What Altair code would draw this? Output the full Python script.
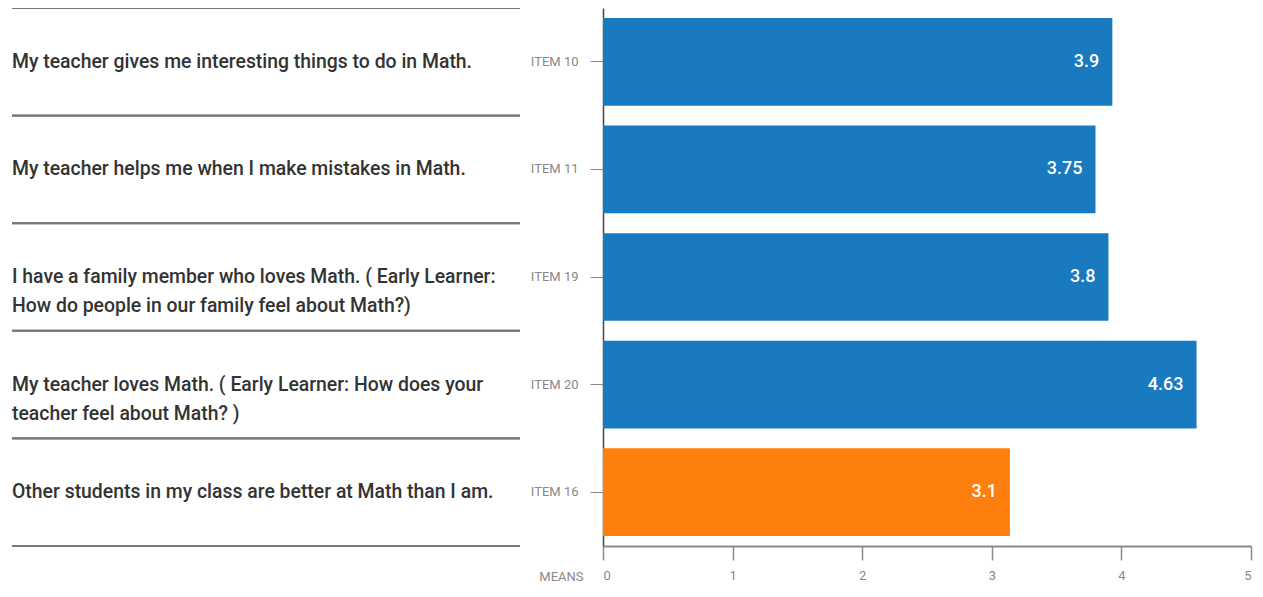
import altair as alt
import pandas as pd

items = ["ITEM 10", "ITEM 11", "ITEM 19", "ITEM 20", "ITEM 16"]
statements = [
    "My teacher gives me interesting things to do in Math.",
    "My teacher helps me when I make mistakes in Math.",
    "I have a family member who loves Math. ( Early Learner:\nHow do people in our family feel about Math?)",
    "My teacher loves Math. ( Early Learner: How does your\nteacher feel about Math? )",
    "Other students in my class are better at Math than I am.",
]
means = [3.93, 3.80, 3.90, 4.58, 3.14]
value_labels = ["3.9", "3.75", "3.8", "4.63", "3.1"]
kinds = ["positive", "positive", "positive", "positive", "negative"]
x_ticks = [0, 1, 2, 3, 4, 5]

df = pd.DataFrame({
    "item": items,
    "statement": statements,
    "mean": means,
    "label": value_labels,
    "kind": kinds,
})

FONT = "Roboto"
PLOT_H = 538

y_enc = alt.Y(
    "item:N",
    sort=items,
    scale=alt.Scale(paddingInner=0.1852, paddingOuter=0.0926),
    axis=alt.Axis(
        title=None,
        domainColor="#444444",
        domainWidth=1.5,
        tickColor="#888888",
        tickSize=13,
        tickWidth=1,
        labelPadding=12,
        labelColor="#888888",
        labelFontSize=13,
        labelFont=FONT,
    ),
)

x_enc = alt.X(
    "mean:Q",
    scale=alt.Scale(domain=[0, 5], nice=False),
    axis=alt.Axis(
        values=x_ticks,
        format="d",
        title="MEANS",
        titleX=-20,
        titleY=30,
        titleAlign="right",
        titleBaseline="middle",
        titleFont=FONT,
        titleFontSize=13,
        titleFontWeight="normal",
        titleColor="#888888",
        domainColor="#8a8a8a",
        domainWidth=2,
        tickColor="#8a8a8a",
        tickSize=14,
        tickWidth=1.5,
        labelPadding=9,
        labelColor="#888888",
        labelFontSize=13,
        labelFont=FONT,
        grid=False,
    ),
)

base = alt.Chart(df)

bars = base.mark_bar().encode(
    x=x_enc,
    y=y_enc,
    color=alt.Color(
        "kind:N",
        scale=alt.Scale(domain=["positive", "negative"], range=["#1a7abf", "#ff7f0e"]),
        legend=None,
    ),
)

bar_text = base.mark_text(
    align="right", baseline="middle", dx=-13, color="white",
    font=FONT, fontSize=18, fontWeight=500,
).encode(
    x="mean:Q",
    y=alt.Y("item:N", sort=items),
    text="label:N",
)

left_text = base.mark_text(
    align="left", baseline="middle", lineBreak="\n", lineHeight=29,
    font=FONT, fontSize=19.4, fontWeight=500, color="#333333",
).encode(
    x=alt.value(-591),
    y=alt.Y("item:N", sort=items),
    text="statement:N",
)

rule_top = base.mark_rule(color="#777777", strokeWidth=2, yOffset=-10).encode(
    x=alt.value(-591),
    x2=alt.value(-83),
    y=alt.Y("item:N", sort=items, bandPosition=0),
)

rule_bottom = base.mark_rule(color="#777777", strokeWidth=2, yOffset=10).encode(
    x=alt.value(-591),
    x2=alt.value(-83),
    y=alt.Y("item:N", sort=items, bandPosition=1),
)

chart = alt.layer(rule_top, rule_bottom, bars, bar_text, left_text).properties(
    width=648,
    height=PLOT_H,
    autosize=alt.AutoSizeParams(type="none"),
    padding={"left": 595, "top": 0, "right": 4, "bottom": 39},
).configure_view(stroke=None)

chart.save("out.html", embed_options={"renderer": "svg", "actions": False})
